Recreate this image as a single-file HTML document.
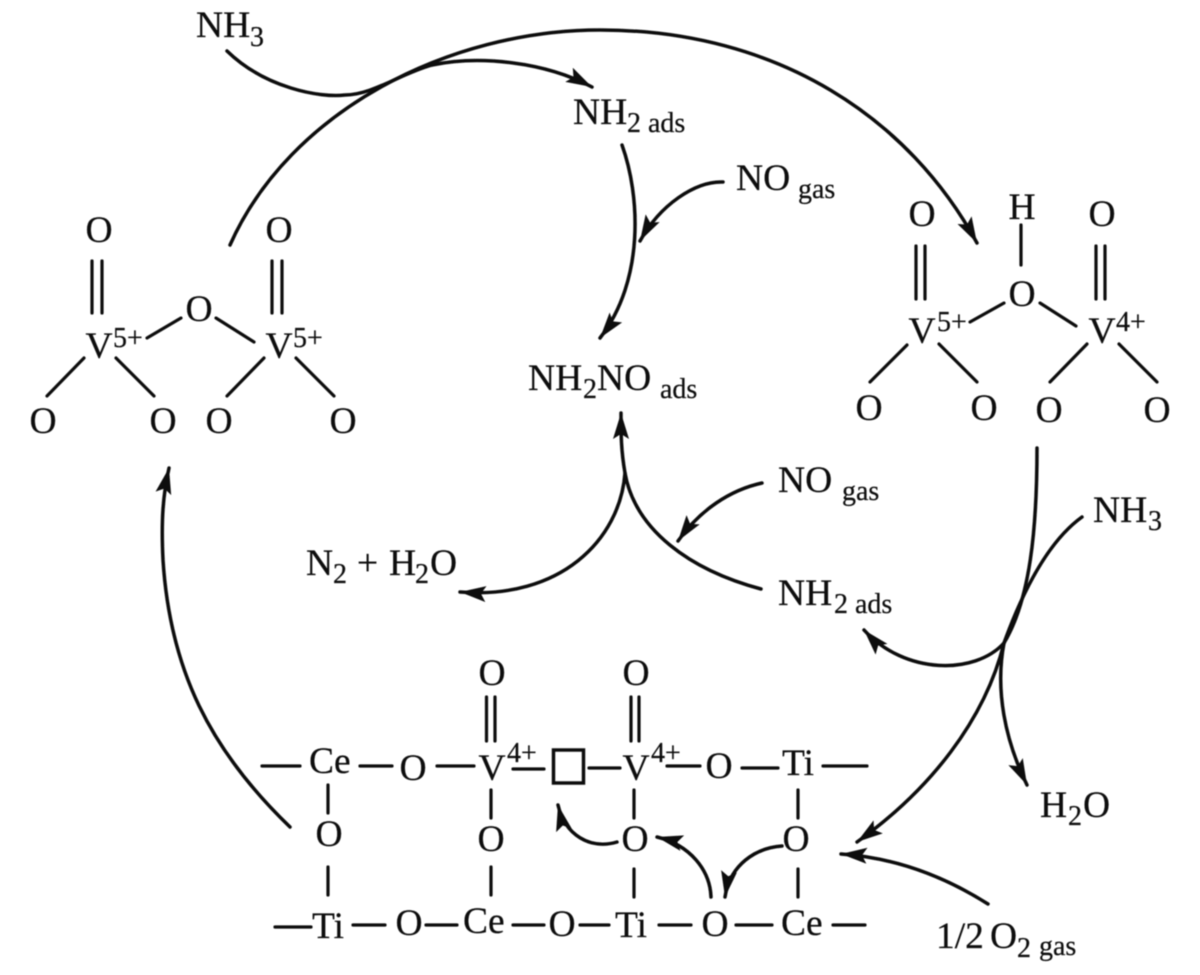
<!DOCTYPE html>
<html><head><meta charset="utf-8"><style>
html,body{margin:0;padding:0;background:#fff}
svg{display:block}
text{font-family:"Liberation Serif",serif;fill:#111;stroke:#111;stroke-width:.25}
.m{font-size:37.500px;text-anchor:middle}
.l{font-size:37.500px}
.s{font-size:28px}
.b{stroke:#111;stroke-width:3.200;fill:none;stroke-linecap:round}
.a{stroke:#111;stroke-width:3.500;fill:none;stroke-linecap:round}
.h{marker-end:url(#ah)}
</style></head><body>
<svg width="1200" height="975" viewBox="0 0 1200 975" xmlns="http://www.w3.org/2000/svg">
<defs>
<marker id="ah" markerUnits="userSpaceOnUse" markerWidth="28" markerHeight="18" refX="26" refY="8" orient="auto"><path d="M26,8 L0,0 L5,8 L0,16 Z" fill="#111"/></marker>
<filter id="soft" x="0" y="0" width="100%" height="100%"><feGaussianBlur stdDeviation="0.45"/></filter>
</defs>
<rect width="1200" height="975" fill="#fff"/>
<g filter="url(#soft)">
<!-- Curves -->
<path class="a h" d="M230,245 C290,110 450,30 600,30 C780,30 910,120 977,243"/>
<path class="a" d="M227,51 C265,88 320,98 345,95 C372,95 400,74 432,65"/>
<path class="a h" d="M432,65 C480,55 545,62 592,87"/>
<path class="a h" d="M622,145 C640,195 645,280 600,338"/>
<path class="a h" d="M723,182 C695,181 660,205 640,241"/>
<path class="a h" d="M761,589 C690,570 635,530 625,473 C621,450 621,435 621,413"/>
<path class="a h" d="M625,473 C620,540 560,600 460,592"/>
<path class="a h" d="M762,483 C730,490 700,510 678,541"/>
<path class="a h" d="M1037,448 C1037,530 1030,600 1004,643 C985,720 930,790 857,842"/>
<path class="a" d="M1082,517 C1050,540 1025,585 1004,643"/>
<path class="a h" d="M1004,643 C995,690 1005,740 1027,785"/>
<path class="a h" d="M1004,643 C975,675 905,675 864,630"/>
<path class="a h" d="M290,827 C210,750 170,670 163,560 C161,520 163,495 169,468"/>
<path class="a h" d="M617,842 C590,850 565,835 558,805"/>
<path class="a h" d="M711,897 C710,870 690,845 657,837"/>
<path class="a h" d="M782,846 C755,848 730,865 725,897"/>
<path class="a h" d="M988,904 C950,880 900,858 841,854"/>
<!-- Bonds -->
<g class="b">
<path d="M92,261V313M102,261V313M272,261V313M282,261V313"/>
<path d="M147,338L181,318M216,318L254,342M84,358L47,396M116,358L154,396M264,358L227,396M296,358L334,396"/>
<path d="M1021,225V265M916,246V299M925,246V299M1096,246V299M1105,246V299"/>
<path d="M970,322L1004,303M1040,303L1076,326M907,345L870,382M939,344L977,382M1087,344L1050,382M1119,344L1157,382"/>
<path d="M262,766H300M360,766H392M437,766H474M513,769H544M589,768H620M667,766H700M742,768H778M823,766H867"/>
<path d="M486.500,697V741M495,697V741M631,697V741M639,697V741"/>
<path d="M328,785V813M328,867V895M491,790V818M491,867V895M634,790V818M634,869V897M798,790V818M798,869V897"/>
<path d="M275,927H311M353,925H385M426,925H457M513,925H544M580,925H609M659,925H691M736,925H772M833,925H865"/>
</g>
<rect x="553.500" y="750" width="30" height="33" fill="none" stroke="#111" stroke-width="3.500"/>
<!-- Left structure -->
<text class="m" x="99" y="242">O</text><text class="m" x="279" y="242">O</text>
<text class="m" x="199" y="321">O</text>
<text class="m" x="99" y="358">V</text><text class="s" x="113" y="347">5+</text>
<text class="m" x="279" y="358">V</text><text class="s" x="293" y="347">5+</text>
<text class="m" x="43" y="433">O</text><text class="m" x="163" y="433">O</text><text class="m" x="219" y="433">O</text><text class="m" x="343" y="433">O</text>
<!-- Right structure -->
<text class="m" x="922" y="226">O</text><text class="m" x="1022" y="219">H</text><text class="m" x="1102" y="226">O</text>
<text class="m" x="1022" y="306">O</text>
<text class="m" x="922" y="343">V</text><text class="s" x="937" y="331">5+</text>
<text class="m" x="1102" y="343">V</text><text class="s" x="1116" y="331">4+</text>
<text class="m" x="869" y="420">O</text><text class="m" x="984" y="420">O</text><text class="m" x="1049" y="422">O</text><text class="m" x="1157" y="422">O</text>
<!-- Labels -->
<text class="l" x="196" y="37">NH</text><text class="s" x="250" y="46">3</text>
<text class="l" x="573" y="124">NH</text><text class="s" x="627" y="132">2 ads</text>
<text class="l" x="736" y="190">NO</text><text class="s" x="798" y="198">gas</text>
<text class="l" x="528" y="390">NH</text><text class="s" x="583" y="398">2</text><text class="l" x="597" y="390">NO</text><text class="s" x="660" y="398">ads</text>
<text class="l" x="778" y="492">NO</text><text class="s" x="842" y="500">gas</text>
<text class="l" x="778" y="605">NH</text><text class="s" x="834" y="613">2 ads</text>
<text class="l" x="306" y="575">N</text><text class="s" x="333" y="583">2</text><text class="l" x="357" y="575">+</text><text class="l" x="389" y="575">H</text><text class="s" x="415" y="583">2</text><text class="l" x="430" y="575">O</text>
<text class="l" x="1093" y="522">NH</text><text class="s" x="1148" y="530">3</text>
<text class="l" x="1040" y="817">H</text><text class="s" x="1068" y="825">2</text><text class="l" x="1083" y="817">O</text>
<text class="l" x="936" y="948">1/2</text><text class="l" x="990" y="948">O</text><text class="s" x="1017" y="957">2</text><text class="s" x="1039" y="955">gas</text>
<!-- Bottom row 1 -->
<text class="l" x="309" y="773">Ce</text>
<text class="m" x="413" y="780">O</text>
<text class="m" x="492" y="780">V</text><text class="s" x="507" y="762">4+</text>
<text class="m" x="636" y="780">V</text><text class="s" x="651" y="762">4+</text>
<text class="m" x="719" y="778">O</text>
<text class="l" x="782" y="775">Ti</text>
<text class="m" x="492" y="685">O</text><text class="m" x="636" y="685">O</text>
<text class="m" x="329" y="846">O</text><text class="m" x="491" y="851">O</text><text class="m" x="635" y="851">O</text><text class="m" x="796" y="851">O</text>
<!-- Bottom row 2 -->
<text class="l" x="312" y="938">Ti</text>
<text class="m" x="409" y="935">O</text>
<text class="l" x="463" y="933">Ce</text>
<text class="m" x="562" y="936">O</text>
<text class="l" x="615" y="937">Ti</text>
<text class="m" x="715" y="936">O</text>
<text class="l" x="781" y="935">Ce</text>
</g>
</svg>
</body></html>
